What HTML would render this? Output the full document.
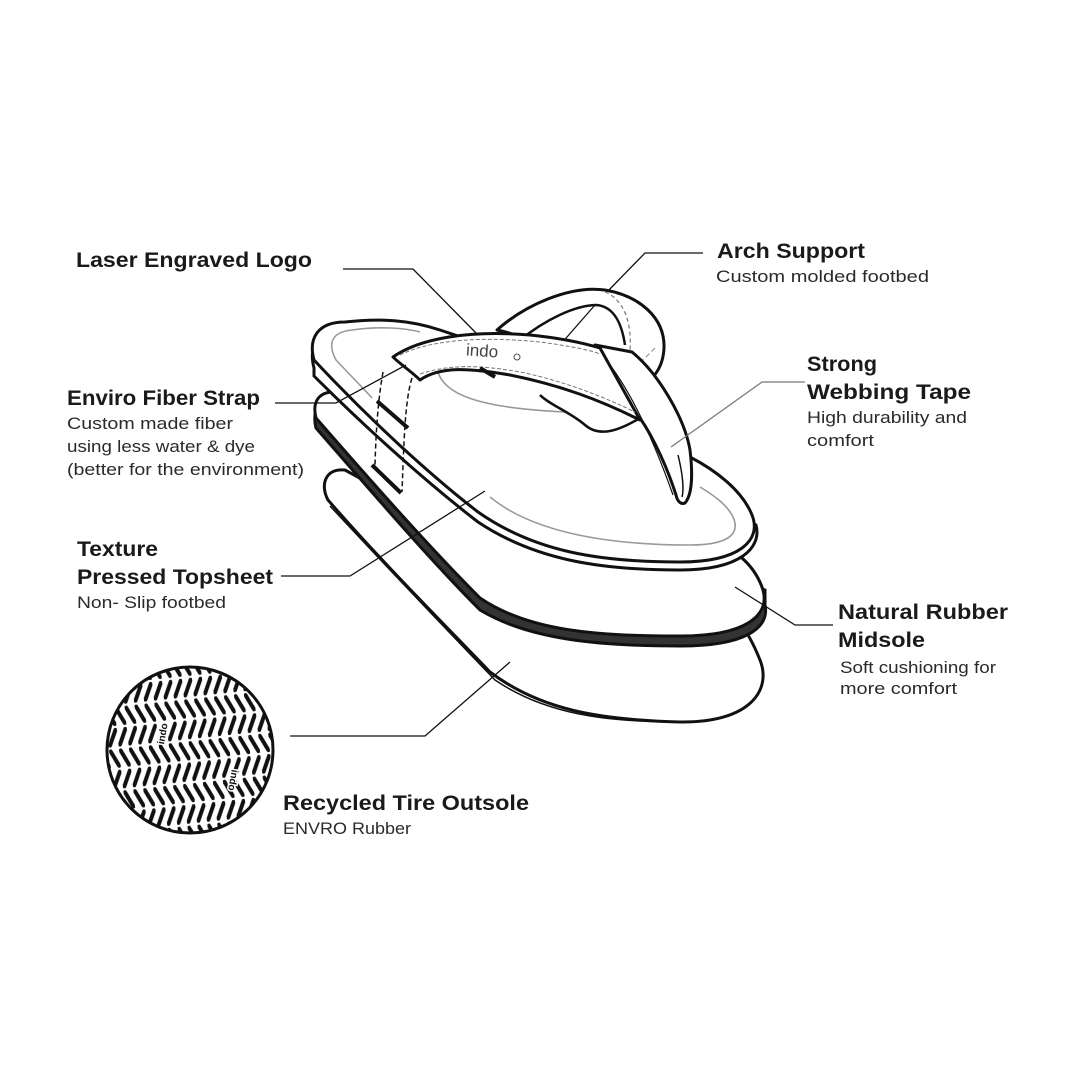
<!DOCTYPE html>
<html><head><meta charset="utf-8"><style>
html,body{margin:0;padding:0;background:#fff}
svg{display:block}
.b{font-family:"Liberation Sans",sans-serif;font-weight:bold;font-size:21px;fill:#1a1a1a}
.s{font-family:"Liberation Sans",sans-serif;font-size:16.5px;fill:#2a2a2a}
.ln{stroke:#111;stroke-width:1.3;fill:none}
.o{stroke:#111;stroke-width:3;fill:#fff;stroke-linejoin:round}
.g{stroke:#999;stroke-width:1.6;fill:none}
</style></head><body>
<svg width="1080" height="1080" viewBox="0 0 1080 1080">
<defs>
<pattern id="hb" width="10" height="42" patternUnits="userSpaceOnUse" patternTransform="rotate(-6)">
<rect width="10" height="42" fill="#fff"/>
<line x1="1.5" y1="3" x2="8.5" y2="18" stroke="#111" stroke-width="4" stroke-linecap="round"/>
<line x1="8.5" y1="24" x2="1.5" y2="39" stroke="#111" stroke-width="4" stroke-linecap="round"/>
</pattern>
</defs>

<!-- circle texture -->
<circle cx="190" cy="750" r="83" fill="url(#hb)"/>
<circle cx="190" cy="750" r="83" fill="none" stroke="#111" stroke-width="3"/>
<text x="150" y="748" transform="rotate(-80 155 738)" style="font-family:'Liberation Sans',sans-serif;font-weight:bold;font-size:10px;fill:#111;stroke:#fff;stroke-width:3;paint-order:stroke">indo</text>
<text x="225" y="785" transform="rotate(100 235 780)" style="font-family:'Liberation Sans',sans-serif;font-weight:bold;font-size:10px;fill:#111;stroke:#fff;stroke-width:3;paint-order:stroke">indo</text>

<!-- outsole layer3 -->
<path class="o" d="M345 470 C325 468 320 485 328 500 C380 560 440 620 490 672 C540 710 600 720 680 722 C750 723 772 690 760 660 C752 640 745 630 740 622 L 600 610 Z" />
<path d="M330 506 C385 565 445 628 495 680 C545 714 605 722 680 722" fill="none" stroke="#111" stroke-width="1.5"/>

<!-- midsole layer2 -->
<path d="M340 398 C318 395 312 412 316 428 C370 490 430 560 480 610 C530 640 600 646 680 646 C745 646 770 628 765 605 L765 590 L 600 560 Z" fill="#333" stroke="#111" stroke-width="3"/>
<path class="o" d="M340 392 C318 390 312 402 316 418 C370 480 430 548 480 598 C530 632 600 636 680 636 C745 636 770 616 763 590 C755 565 735 550 720 545 L 560 520 Z" />

<!-- top footbed layer1 -->
<path class="o" d="M345 330 C318 330 308 345 314 368 L314 376 C370 432 430 485 478 522 C535 560 600 570 680 570 C740 570 762 548 756 525 L 520 400 Z"/>
<path class="o" d="M345 322 C318 322 308 338 314 360 C370 420 430 475 478 512 C535 552 600 562 680 562 C740 562 762 540 752 515 C742 490 715 470 690 457 L 590 380 L 440 330 C410 320 380 318 345 322 Z"/>
<path class="g" d="M352 330 C330 332 328 345 336 360 C350 375 365 390 372 398"/>
<path class="g" d="M352 330 C380 326 405 328 420 332"/>
<path class="g" d="M438 372 C445 395 480 408 565 412"/>
<path class="g" d="M490 497 C530 530 600 545 690 545 C735 545 740 530 732 515 C725 503 713 495 700 487"/>

<!-- arch strap (back) -->
<path class="o" d="M497 330 C525 305 570 285 605 290 C640 296 665 318 664 348 C663 370 650 385 633 388 C610 390 590 386 575 383 C555 378 540 360 530 345 C525 338 512 333 497 330 Z"/>
<path d="M520 340 C545 320 575 305 597 305 C615 307 622 325 625 345" fill="none" stroke="#111" stroke-width="2.5"/>
<path d="M560 345 L595 305" class="ln"/>
<path d="M605 292 C625 300 632 325 630 350" fill="none" stroke="#777" stroke-width="1.2" stroke-dasharray="4 3"/>
<path d="M600 350 L655 375 M630 352 L615 388 M600 350 L633 388 M655 348 L615 388" fill="none" stroke="#888" stroke-width="1" stroke-dasharray="5 3"/>

<!-- toe post / diagonal strap -->
<path class="o" d="M595 345 L632 352 C660 375 685 420 690 450 C693 475 692 495 685 503 C680 505 677 500 676 495 C668 470 655 440 640 418 C625 405 600 395 580 388 Z"/>
<path d="M598 350 C625 380 650 430 673 495" fill="none" stroke="#111" stroke-width="1.2"/>
<path d="M678 455 C683 475 684 490 682 497" fill="none" stroke="#111" stroke-width="1.5"/>
<path d="M640 418 C620 430 600 438 585 425 C570 412 550 405 540 395" fill="none" stroke="#111" stroke-width="2.5"/>

<!-- dashed connectors -->
<path d="M383 372 C378 400 376 430 375 465 M412 378 C405 400 404 440 402 492" fill="none" stroke="#111" stroke-width="1.5" stroke-dasharray="5 3"/>
<line x1="377" y1="401" x2="408" y2="428" stroke="#111" stroke-width="4"/>
<line x1="372" y1="465" x2="401" y2="493" stroke="#111" stroke-width="4"/>

<!-- indo band -->
<path class="o" d="M393 357 C420 338 470 330 530 335 C560 338 580 342 600 348 L 640 420 C600 400 560 385 510 375 C470 368 440 366 420 380 C412 372 400 364 393 357 Z"/>
<path d="M400 355 C430 340 480 336 540 342 C570 346 590 350 600 354 M420 374 C450 364 480 365 520 372 C560 380 600 395 635 412" fill="none" stroke="#777" stroke-width="1" stroke-dasharray="4 2"/>
<text x="466" y="357" style="font-family:'Liberation Sans',sans-serif;font-size:17px;fill:#444" transform="rotate(4 490 352)">indo</text>
<circle cx="517" cy="357" r="3" fill="none" stroke="#555" stroke-width="1"/>
<line x1="480" y1="368" x2="495" y2="377" stroke="#111" stroke-width="4"/>

<!-- leader lines -->
<path class="ln" d="M343 269 L413 269 L478 335"/>
<path class="ln" d="M703 253 L645 253 L608 291"/>
<path d="M805 382 L762 382 L671 447" fill="none" stroke="#777" stroke-width="1.2"/>
<path class="ln" d="M275 403 L336 403 L406 365"/>
<path class="ln" d="M281 576 L350 576 L485 491"/>
<path class="ln" d="M833 625 L795 625 L735 587"/>
<path class="ln" d="M290 736 L425 736 L510 662"/>

<!-- labels -->
<text class="b" x="76" y="267" textLength="236" lengthAdjust="spacingAndGlyphs">Laser Engraved Logo</text>
<text class="b" x="717" y="258" textLength="148" lengthAdjust="spacingAndGlyphs">Arch Support</text>
<text class="s" x="716" y="282" textLength="213" lengthAdjust="spacingAndGlyphs">Custom molded footbed</text>
<text class="b" x="807" y="371" textLength="70" lengthAdjust="spacingAndGlyphs">Strong</text>
<text class="b" x="807" y="399" textLength="164" lengthAdjust="spacingAndGlyphs">Webbing Tape</text>
<text class="s" x="807" y="423" textLength="160" lengthAdjust="spacingAndGlyphs">High durability and</text>
<text class="s" x="807" y="446" textLength="67" lengthAdjust="spacingAndGlyphs">comfort</text>
<text class="b" x="67" y="405" textLength="193" lengthAdjust="spacingAndGlyphs">Enviro Fiber Strap</text>
<text class="s" x="67" y="429" textLength="166" lengthAdjust="spacingAndGlyphs">Custom made fiber</text>
<text class="s" x="67" y="452" textLength="188" lengthAdjust="spacingAndGlyphs">using less water &amp; dye</text>
<text class="s" x="67" y="475" textLength="237" lengthAdjust="spacingAndGlyphs">(better for the environment)</text>
<text class="b" x="77" y="556" textLength="81" lengthAdjust="spacingAndGlyphs">Texture</text>
<text class="b" x="77" y="584" textLength="196" lengthAdjust="spacingAndGlyphs">Pressed Topsheet</text>
<text class="s" x="77" y="608" textLength="149" lengthAdjust="spacingAndGlyphs">Non- Slip footbed</text>
<text class="b" x="838" y="619" textLength="170" lengthAdjust="spacingAndGlyphs">Natural Rubber</text>
<text class="b" x="838" y="647" textLength="87" lengthAdjust="spacingAndGlyphs">Midsole</text>
<text class="s" x="840" y="673" textLength="156" lengthAdjust="spacingAndGlyphs">Soft cushioning for</text>
<text class="s" x="840" y="694" textLength="117" lengthAdjust="spacingAndGlyphs">more comfort</text>
<text class="b" x="283" y="810" textLength="246" lengthAdjust="spacingAndGlyphs">Recycled Tire Outsole</text>
<text class="s" x="283" y="834" textLength="128" lengthAdjust="spacingAndGlyphs">ENVRO Rubber</text>
</svg>
</body></html>
